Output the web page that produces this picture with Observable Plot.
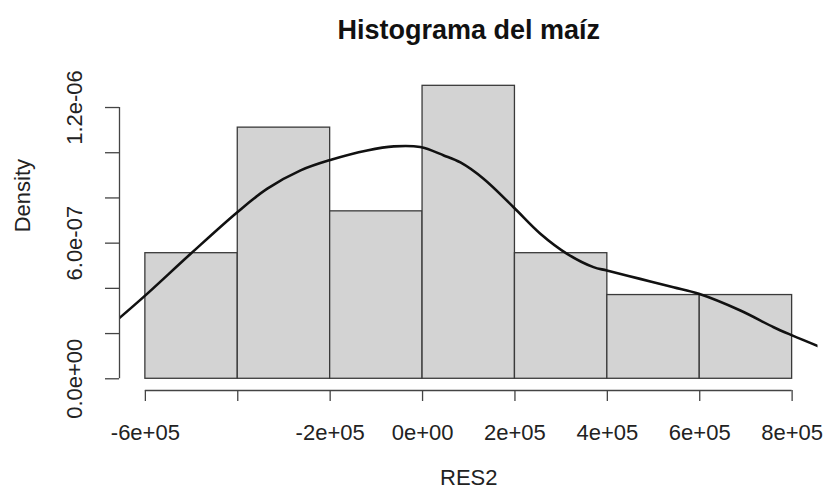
<!DOCTYPE html>
<html><head><meta charset="utf-8">
<script src="https://cdn.jsdelivr.net/npm/d3@7"></script>
<script src="https://cdn.jsdelivr.net/npm/@observablehq/plot@0.6"></script>
<style>body{margin:0;background:#fff} svg{display:block}</style>
</head><body><div id="chart"></div>
<script>
const title = "Histograma del maíz";
const xLabel = "RES2";
const yLabel = "Density";
const breaks = [-600000, -400000, -200000, 0, 200000, 400000, 600000, 800000];
const densities = [5.556e-7, 1.111e-6, 7.407e-7, 1.296e-6, 5.556e-7, 3.704e-7, 3.704e-7];
const curveX = [-660000, -600000, -502000, -401000, -336000, -264000, -198000, -120000, -62000, -5000, 46000, 82000, 132000, 197000, 255000, 313000, 370000, 399000, 471000, 543000, 598000, 688000, 760000, 800000, 858000];
const curveY = [2.62e-7, 3.69e-7, 5.53e-7, 7.37e-7, 8.41e-7, 9.22e-7, 9.69e-7, 1.010e-6, 1.028e-6, 1.025e-6, 9.88e-7, 9.57e-7, 8.85e-7, 7.59e-7, 6.42e-7, 5.53e-7, 4.94e-7, 4.79e-7, 4.42e-7, 4.05e-7, 3.76e-7, 3.02e-7, 2.28e-7, 1.92e-7, 1.43e-7];
const xTicks = breaks;
const xTickLabels = ["-6e+05", "", "-2e+05", "0e+00", "2e+05", "4e+05", "6e+05", "8e+05"];
const yTicks = [0, 2e-7, 4e-7, 6e-7, 8e-7, 1e-6, 1.2e-6];
const yTickLabels = ["0.0e+00", "", "", "6.0e-07", "", "", "1.2e-06"];

const bins = densities.map((d, i) => ({x1: breaks[i], x2: breaks[i + 1], d}));
const curve = curveX.map((x, i) => ({x, y: curveY[i]}));
const xr = breaks[breaks.length - 1] - breaks[0];
const xDom = [breaks[0] - 0.04 * xr, breaks[breaks.length - 1] + 0.04 * xr];
const yMax = d3.max(densities);
const yDom = [-0.04 * yMax, 1.04 * yMax];

const mTop = 73.6, mBottom = 111, mLeft = 119, mRight = 6.5;
const ink = "#222", axisInk = "#444";

const chart = Plot.plot({
  width: 824, height: 501,
  marginTop: mTop, marginBottom: mBottom, marginLeft: mLeft, marginRight: mRight,
  style: {fontFamily: "'Liberation Sans', Arial, sans-serif", fontSize: "22px", color: ink, background: "#fff"},
  x: {type: "linear", domain: xDom, axis: null},
  y: {type: "linear", domain: yDom, axis: null},
  marks: [
    Plot.rect(bins, {x1: "x1", x2: "x2", y1: 0, y2: "d", fill: "#d3d3d3", stroke: "#3a3a3a", strokeWidth: 1.3, inset: 0}),
    Plot.line(curve, {x: "x", y: "y", curve: "catmull-rom", stroke: "#111", strokeWidth: 2.6, clip: true}),
    Plot.ruleY([yDom[0]], {x1: xTicks[0], x2: xTicks[xTicks.length - 1], stroke: axisInk, strokeWidth: 1.3}),
    Plot.ruleX([xDom[0]], {y1: yTicks[0], y2: yTicks[yTicks.length - 1], stroke: axisInk, strokeWidth: 1.3}),
    Plot.axisX({ticks: xTicks, tickSize: 11, tickPadding: 23, stroke: axisInk, strokeWidth: 1.3, fontSize: 22, fill: ink,
      tickFormat: d => xTickLabels[xTicks.indexOf(d)]}),
    Plot.axisY({ticks: yTicks, tickSize: 14, tickPadding: 24, tickRotate: -90, stroke: axisInk, strokeWidth: 1.3, fontSize: 22, fill: ink,
      tickFormat: d => yTickLabels[yTicks.indexOf(d)]}),
    Plot.text([title], {text: d => d, frameAnchor: "top", dy: 19 - mTop, fontSize: 27, fontWeight: "bold", fill: "#111"}),
    Plot.text([xLabel], {text: d => d, frameAnchor: "bottom", dy: 94, fontSize: 22, fill: ink}),
    Plot.text([yLabel], {text: d => d, frameAnchor: "left", dx: 22 - mLeft, rotate: -90, fontSize: 22, fill: ink})
  ]
});
document.getElementById("chart").appendChild(chart);
</script>
</body></html>
